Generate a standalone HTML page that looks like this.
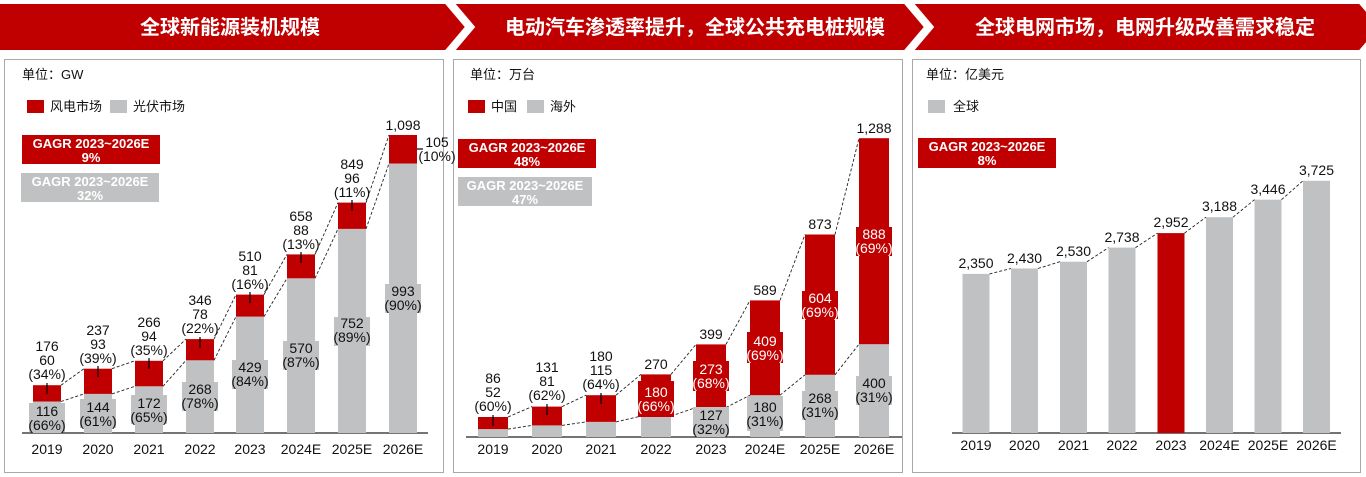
<!DOCTYPE html>
<html><head><meta charset="utf-8"><style>
html,body{margin:0;padding:0;background:#fff;}
svg{display:block;font-family:"Liberation Sans","Noto Sans CJK SC",sans-serif;}
.t{font-size:14px;fill:#111;text-anchor:middle;}
.w{font-size:14px;fill:#fff;text-anchor:middle;}
.y{font-size:14px;fill:#111;text-anchor:middle;}
.g{font-size:13px;fill:#fff;text-anchor:middle;font-weight:bold;}
.l{font-size:13px;fill:#111;}
.d{stroke:#222;stroke-width:0.9;stroke-dasharray:3,2;fill:none;}
.k{stroke:#000;stroke-width:1.2;}
.R{fill:#c00000;} .G{fill:#bfc1c2;}
</style></head><body>
<svg width="1366" height="477" viewBox="0 0 1366 477">
<rect x="0" y="4" width="1366" height="46" fill="#c00000"/>
<polyline points="448,1 470,27 448,53" stroke="#fff" stroke-width="8" fill="none"/>
<polyline points="907,1 929,27 907,53" stroke="#fff" stroke-width="8" fill="none"/>
<polyline points="1362,1 1384,27 1362,53" stroke="#fff" stroke-width="8" fill="none"/>
<text x="230" y="34" fill="#fff" font-size="20" font-weight="bold" text-anchor="middle">全球新能源装机规模</text>
<text x="695" y="34" fill="#fff" font-size="20" font-weight="bold" text-anchor="middle">电动汽车渗透率提升，全球公共充电桩规模</text>
<text x="1145" y="34" fill="#fff" font-size="20" font-weight="bold" text-anchor="middle">全球电网市场，电网升级改善需求稳定</text>
<rect x="4.5" y="59.5" width="439" height="413" fill="none" stroke="#a8a8a8"/>
<rect x="453.5" y="59.5" width="449" height="413" fill="none" stroke="#a8a8a8"/>
<rect x="912.5" y="59.5" width="448" height="413" fill="none" stroke="#a8a8a8"/>

<!-- ===== Panel 1 ===== -->
<text x="22" y="79" class="l">单位：GW</text>
<rect x="27" y="100" width="17" height="13" class="R"/><text x="50" y="111" class="l">风电市场</text>
<rect x="110" y="100" width="17" height="13" class="G"/><text x="133" y="111" class="l">光伏市场</text>
<rect x="22" y="135" width="138" height="29" class="R"/>
<text x="91" y="148" class="g">GAGR 2023~2026E</text><text x="91" y="162" class="g">9%</text>
<rect x="21" y="173" width="138" height="29" class="G"/>
<text x="90" y="186" class="g">GAGR 2023~2026E</text><text x="90" y="200" class="g">32%</text>

<line x1="22" y1="433" x2="428" y2="433" stroke="#222" stroke-width="1.2"/>
<rect x="33" y="401.5" width="28" height="31.5" class="G"/><rect x="33" y="385.2" width="28" height="16.3" class="R"/>
<rect x="84" y="393.9" width="28" height="39.1" class="G"/><rect x="84" y="368.7" width="28" height="25.2" class="R"/>
<rect x="135" y="386.3" width="28" height="46.7" class="G"/><rect x="135" y="360.8" width="28" height="25.5" class="R"/>
<rect x="186" y="360.3" width="28" height="72.7" class="G"/><rect x="186" y="339.1" width="28" height="21.2" class="R"/>
<rect x="236" y="316.6" width="28" height="116.4" class="G"/><rect x="236" y="294.6" width="28" height="22" class="R"/>
<rect x="287" y="278.3" width="28" height="154.7" class="G"/><rect x="287" y="254.4" width="28" height="23.9" class="R"/>
<rect x="338" y="228.9" width="28" height="204.1" class="G"/><rect x="338" y="202.6" width="28" height="26.3" class="R"/>
<rect x="389" y="163.5" width="28" height="269.5" class="G"/><rect x="389" y="135" width="28" height="28.5" class="R"/>
<line x1="47" y1="383" x2="47" y2="394" class="k"/><line x1="98" y1="366" x2="98" y2="377" class="k"/>
<line x1="149" y1="358" x2="149" y2="369" class="k"/><line x1="200" y1="337" x2="200" y2="348" class="k"/>
<line x1="250" y1="292" x2="250" y2="303" class="k"/><line x1="301" y1="252" x2="301" y2="263" class="k"/>
<line x1="352" y1="200" x2="352" y2="211" class="k"/><line x1="417" y1="149" x2="423" y2="149" class="k"/>
<path class="d" d="M61,385.2L84,368.7M112,368.7L135,360.8M163,360.8L186,339.1M214,339.1L236,294.6M264,294.6L287,254.4M315,254.4L338,202.6M366,202.6L389,135"/>
<path class="d" d="M61,401.5L84,393.9M112,393.9L135,386.3M163,386.3L186,360.3M214,360.3L236,316.6M264,316.6L287,278.3M315,278.3L338,228.9M366,228.9L389,163.5"/>
<text class="t" x="47" y="351">176</text><text class="t" x="47" y="365">60</text><text class="t" x="47" y="379">(34%)</text>
<text class="t" x="98" y="335">237</text><text class="t" x="98" y="349">93</text><text class="t" x="98" y="363">(39%)</text>
<text class="t" x="149" y="327">266</text><text class="t" x="149" y="341">94</text><text class="t" x="149" y="355">(35%)</text>
<text class="t" x="200" y="305">346</text><text class="t" x="200" y="319">78</text><text class="t" x="200" y="333">(22%)</text>
<text class="t" x="250" y="261">510</text><text class="t" x="250" y="275">81</text><text class="t" x="250" y="289">(16%)</text>
<text class="t" x="301" y="221">658</text><text class="t" x="301" y="235">88</text><text class="t" x="301" y="249">(13%)</text>
<text class="t" x="352" y="169">849</text><text class="t" x="352" y="183">96</text><text class="t" x="352" y="197">(11%)</text>
<text class="t" x="403" y="130">1,098</text><text class="t" x="437" y="147">105</text><text class="t" x="437" y="161">(10%)</text>
<g class="G">
<rect x="29" y="403" width="36" height="29"/><rect x="80" y="399" width="36" height="29"/>
<rect x="131" y="395" width="36" height="29"/><rect x="182" y="382" width="36" height="29"/>
<rect x="232" y="360" width="36" height="29"/><rect x="283" y="341" width="36" height="29"/>
<rect x="334" y="317" width="36" height="29"/><rect x="385" y="284" width="36" height="29"/>
</g>
<text class="t" x="47" y="416">116</text><text class="t" x="47" y="430">(66%)</text>
<text class="t" x="98" y="412">144</text><text class="t" x="98" y="426">(61%)</text>
<text class="t" x="149" y="408">172</text><text class="t" x="149" y="422">(65%)</text>
<text class="t" x="200" y="394">268</text><text class="t" x="200" y="408">(78%)</text>
<text class="t" x="250" y="372">429</text><text class="t" x="250" y="386">(84%)</text>
<text class="t" x="301" y="353">570</text><text class="t" x="301" y="367">(87%)</text>
<text class="t" x="352" y="328">752</text><text class="t" x="352" y="342">(89%)</text>
<text class="t" x="403" y="296">993</text><text class="t" x="403" y="310">(90%)</text>
<g class="y">
<text x="47" y="454">2019</text><text x="98" y="454">2020</text><text x="149" y="454">2021</text><text x="200" y="454">2022</text>
<text x="250" y="454">2023</text><text x="301" y="454">2024E</text><text x="352" y="454">2025E</text><text x="403" y="454">2026E</text>
</g>

<!-- ===== Panel 2 ===== -->
<text x="470" y="79" class="l">单位：万台</text>
<rect x="468" y="100" width="17" height="13" class="R"/><text x="491" y="111" class="l">中国</text>
<rect x="527" y="100" width="17" height="13" class="G"/><text x="550" y="111" class="l">海外</text>
<rect x="458" y="139" width="138" height="29" class="R"/>
<text x="527" y="152" class="g">GAGR 2023~2026E</text><text x="527" y="166" class="g">48%</text>
<rect x="458" y="177" width="134" height="29" class="G"/>
<text x="525" y="190" class="g">GAGR 2023~2026E</text><text x="525" y="204" class="g">47%</text>

<line x1="466" y1="437" x2="902" y2="437" stroke="#222" stroke-width="1.2"/>
<rect x="478" y="429.1" width="30" height="7.9" class="G"/><rect x="478" y="417" width="30" height="12.1" class="R"/>
<rect x="532" y="425.4" width="30" height="11.6" class="G"/><rect x="532" y="406.6" width="30" height="18.8" class="R"/>
<rect x="586" y="421.9" width="30" height="15.1" class="G"/><rect x="586" y="395.2" width="30" height="26.7" class="R"/>
<rect x="641" y="416.1" width="30" height="20.9" class="G"/><rect x="641" y="374.4" width="30" height="41.7" class="R"/>
<rect x="696" y="407.5" width="30" height="29.5" class="G"/><rect x="696" y="344.4" width="30" height="63.1" class="R"/>
<rect x="750" y="395.2" width="30" height="41.8" class="G"/><rect x="750" y="300.4" width="30" height="94.8" class="R"/>
<rect x="805" y="374.8" width="30" height="62.2" class="G"/><rect x="805" y="234.5" width="30" height="140.3" class="R"/>
<rect x="859" y="344.2" width="30" height="92.8" class="G"/><rect x="859" y="138.2" width="30" height="206" class="R"/>
<line x1="493" y1="415" x2="493" y2="426" class="k"/><line x1="547" y1="404" x2="547" y2="415" class="k"/>
<line x1="601" y1="393" x2="601" y2="404" class="k"/>
<path class="d" d="M508,417L532,406.6M562,406.6L586,395.2M616,395.2L641,374.4M671,374.4L696,344.4M726,344.4L750,300.4M780,300.4L805,234.5M835,234.5L859,138.2"/>
<path class="d" d="M508,429.1L532,425.4M562,425.4L586,421.9M616,421.9L641,416.1M671,416.1L696,407.5M726,407.5L750,395.2M780,395.2L805,374.8M835,374.8L859,344.2"/>
<text class="t" x="493" y="383">86</text><text class="t" x="493" y="397">52</text><text class="t" x="493" y="411">(60%)</text>
<text class="t" x="547" y="372">131</text><text class="t" x="547" y="386">81</text><text class="t" x="547" y="400">(62%)</text>
<text class="t" x="601" y="361">180</text><text class="t" x="601" y="375">115</text><text class="t" x="601" y="389">(64%)</text>
<text class="t" x="656" y="369">270</text><text class="t" x="711" y="339">399</text>
<text class="t" x="765" y="295">589</text><text class="t" x="820" y="229">873</text><text class="t" x="874" y="133">1,288</text>
<g class="R">
<rect x="638" y="381" width="36" height="36"/><rect x="693" y="361" width="36" height="30"/>
<rect x="747" y="332" width="36" height="31"/><rect x="802" y="291" width="36" height="28"/>
<rect x="856" y="227" width="36" height="29"/>
</g>
<text class="w" x="656" y="397">180</text><text class="w" x="656" y="411">(66%)</text>
<text class="w" x="711" y="374">273</text><text class="w" x="711" y="388">(68%)</text>
<text class="w" x="765" y="346">409</text><text class="w" x="765" y="360">(69%)</text>
<text class="w" x="820" y="303">604</text><text class="w" x="820" y="317">(69%)</text>
<text class="w" x="874" y="239">888</text><text class="w" x="874" y="253">(69%)</text>
<g class="G">
<rect x="693" y="407" width="36" height="28"/><rect x="747" y="396" width="36" height="35"/>
<rect x="802" y="391" width="36" height="29"/><rect x="856" y="376" width="36" height="29"/>
</g>
<text class="t" x="711" y="420">127</text><text class="t" x="711" y="434">(32%)</text>
<text class="t" x="765" y="412">180</text><text class="t" x="765" y="426">(31%)</text>
<text class="t" x="820" y="403">268</text><text class="t" x="820" y="417">(31%)</text>
<text class="t" x="874" y="388">400</text><text class="t" x="874" y="402">(31%)</text>
<g class="y">
<text x="493" y="454">2019</text><text x="547" y="454">2020</text><text x="601" y="454">2021</text><text x="656" y="454">2022</text>
<text x="711" y="454">2023</text><text x="765" y="454">2024E</text><text x="820" y="454">2025E</text><text x="874" y="454">2026E</text>
</g>

<!-- ===== Panel 3 ===== -->
<text x="926" y="79" class="l">单位：亿美元</text>
<rect x="928" y="100" width="17" height="13" class="G"/><text x="953" y="111" class="l">全球</text>
<rect x="918" y="138" width="138" height="30" class="R"/>
<text x="987" y="151" class="g">GAGR 2023~2026E</text><text x="987" y="165" class="g">8%</text>
<line x1="952" y1="433" x2="1341" y2="433" stroke="#222" stroke-width="1.2"/>
<rect x="962.5" y="273.9" width="27" height="159.1" class="G"/>
<rect x="1011" y="268.5" width="27" height="164.5" class="G"/>
<rect x="1060" y="261.7" width="27" height="171.3" class="G"/>
<rect x="1108.5" y="247.6" width="27" height="185.4" class="G"/>
<rect x="1157.5" y="233.1" width="27" height="199.9" class="R"/>
<rect x="1206" y="217.2" width="27" height="215.8" class="G"/>
<rect x="1254.5" y="199.7" width="27" height="233.3" class="G"/>
<rect x="1303" y="180.8" width="27" height="252.2" class="G"/>
<path class="d" d="M989.5,273.9L1011,268.5M1038,268.5L1060,261.7M1087,261.7L1108.5,247.6M1135.5,247.6L1157.5,233.1M1184.5,233.1L1206,217.2M1233,217.2L1254.5,199.7M1281.5,199.7L1303,180.8"/>
<text class="t" x="976" y="268">2,350</text><text class="t" x="1024.5" y="263">2,430</text>
<text class="t" x="1073.5" y="256">2,530</text><text class="t" x="1122" y="242">2,738</text>
<text class="t" x="1171" y="227">2,952</text><text class="t" x="1219.5" y="211">3,188</text>
<text class="t" x="1268" y="194">3,446</text><text class="t" x="1316.5" y="175">3,725</text>
<g class="y">
<text x="976" y="450">2019</text><text x="1024.5" y="450">2020</text><text x="1073.5" y="450">2021</text><text x="1122" y="450">2022</text>
<text x="1171" y="450">2023</text><text x="1219.5" y="450">2024E</text><text x="1268" y="450">2025E</text><text x="1316.5" y="450">2026E</text>
</g>
</svg>
</body></html>
